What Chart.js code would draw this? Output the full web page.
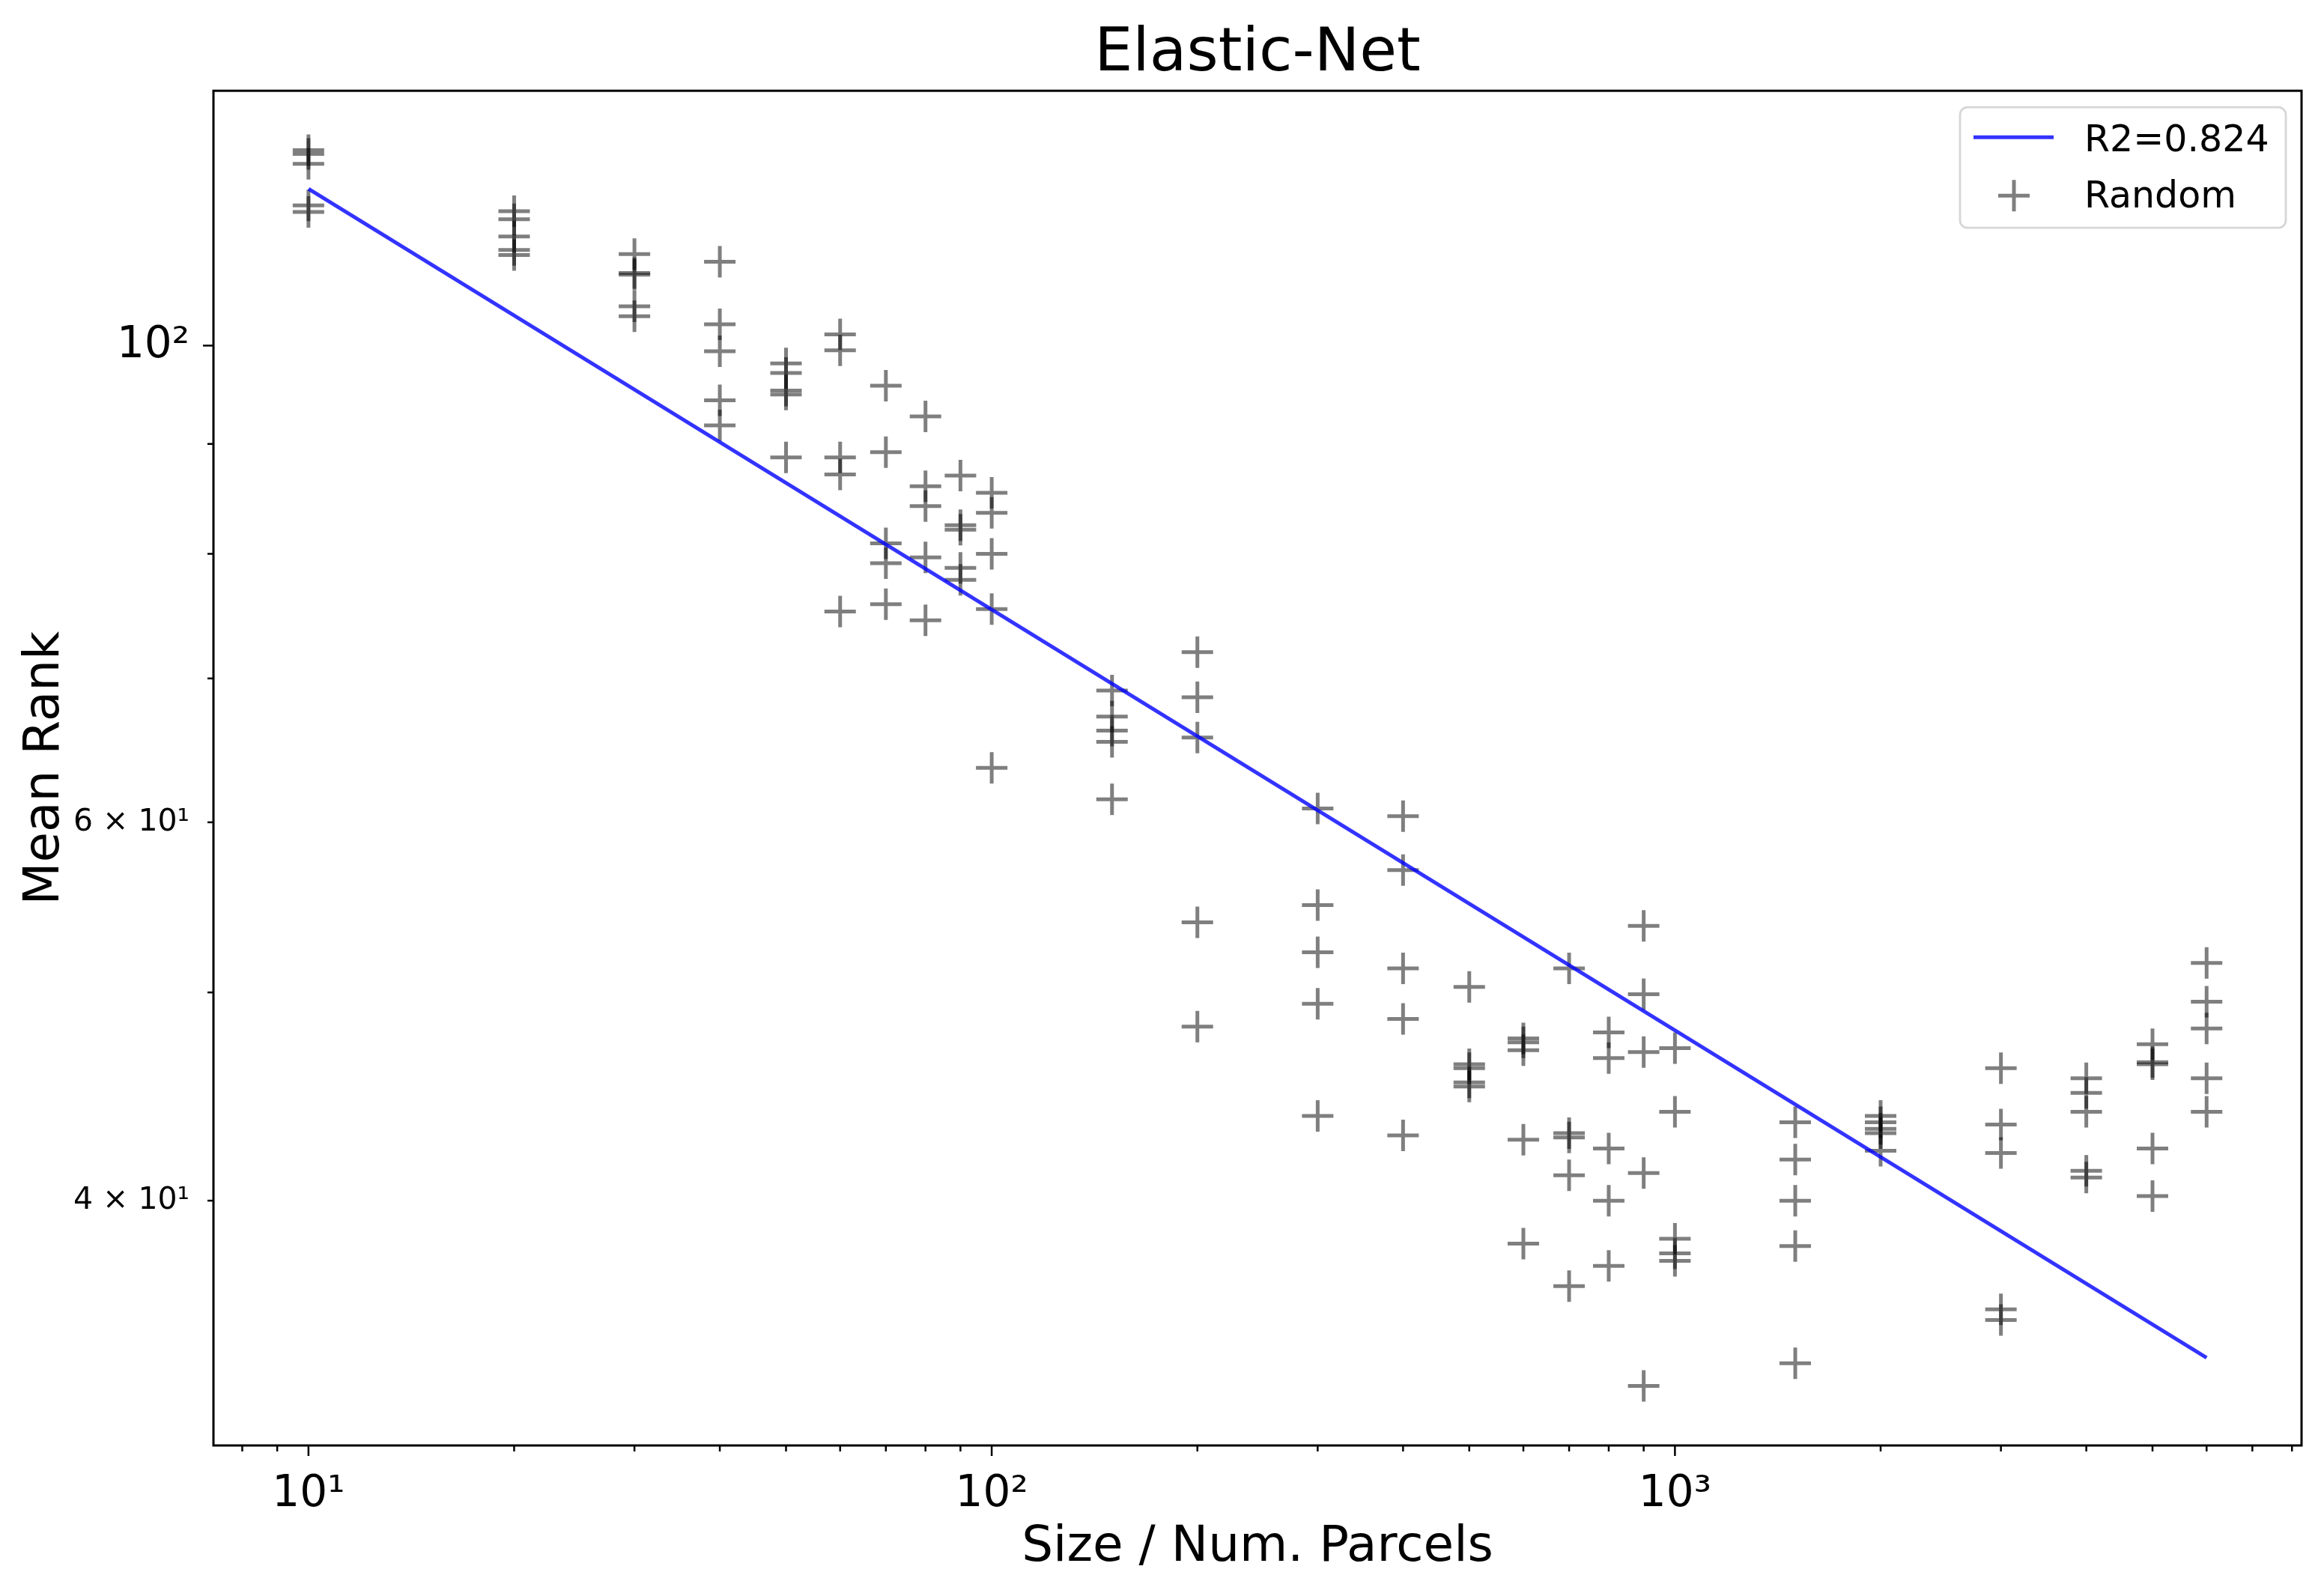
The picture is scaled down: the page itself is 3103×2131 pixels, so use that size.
<!DOCTYPE html>
<html>
<head>
<meta charset="utf-8">
<script src="https://cdn.jsdelivr.net/npm/chart.js@4.4.1/dist/chart.umd.min.js"></script>
<style>
  html, body { margin: 0; padding: 0; background: #fff; }
  #wrap { width: 3103px; height: 2131px; }
</style>
</head>
<body>
<div id="wrap"><canvas id="chart" width="3103" height="2131"></canvas></div>
<script>
const sizes = [10, 20, 30, 40, 50, 60, 70, 80, 90, 100, 150, 200, 300, 400, 500, 600, 700, 800, 900, 1000, 1500, 2000, 3000, 4000, 5000, 6000];

// five random runs per parcel size
const meanRank = [
  [123.3, 122.8, 121.5, 116.2, 115.4],
  [115.5, 114.5, 112.4, 110.8, 110.2],
  [110.3, 108.1, 107.9, 104.3, 103.2],
  [109.4, 102.3, 99.4, 94.3, 91.8],
  [98.1, 97.1, 95.3, 94.9, 88.7],
  [101.2, 99.5, 88.7, 87.1, 75.2],
  [95.8, 89.2, 80.9, 79.2, 75.8],
  [92.7, 86.0, 84.2, 79.7, 74.5],
  [87.0, 82.5, 82.1, 78.8, 77.8],
  [85.4, 83.6, 80.0, 75.4, 63.6],
  [69.1, 67.2, 66.2, 65.4, 61.5],
  [72.0, 68.6, 65.7, 53.9, 48.2],
  [60.9, 54.9, 52.2, 49.4, 43.8],
  [60.4, 57.0, 51.3, 48.6, 42.9],
  [50.3, 46.3, 46.1, 45.4, 45.2],
  [47.6, 47.4, 47.0, 42.7, 38.2],
  [51.3, 43.0, 42.8, 41.1, 36.5],
  [47.9, 46.6, 42.3, 40.0, 37.3],
  [53.7, 49.9, 46.9, 41.2, 32.8],
  [47.1, 44.0, 38.4, 37.8, 37.5],
  [43.5, 41.8, 40.0, 38.1, 33.6],
  [43.8, 43.5, 43.2, 43.0, 42.2],
  [46.1, 43.4, 42.1, 35.6, 35.2],
  [45.6, 44.9, 44.0, 41.3, 41.0],
  [47.3, 46.4, 46.3, 42.3, 40.2],
  [51.6, 49.5, 48.1, 45.6, 44.0]
];

// fitted power law, ends
const fitX = [10, 6000];
const fitY = [118.3, 33.8];

const xTicks = [8, 9, 10, 20, 30, 40, 50, 60, 70, 80, 90, 100, 200, 300, 400, 500, 600, 700, 800, 900,
                1000, 2000, 3000, 4000, 5000, 6000, 7000, 8000];
const xMajor = [10, 100, 1000];
const xTickLabels = { 10: "10¹", 100: "10²", 1000: "10³" };

const yTicks = [40, 50, 60, 70, 80, 90, 100];
const yMajor = [100];
const yTickLabels = { 40: "4 × 10¹", 60: "6 × 10¹", 100: "10²" };

const FONT = "DejaVu Sans";
const LINE_COLOR = "rgba(0,0,255,0.8)";
const MARK_COLOR = "rgba(0,0,0,0.5)";

const points = sizes.flatMap((s, i) => meanRank[i].map(v => ({ x: s, y: v })));

// matplotlib-style ticks (long major / short minor) and a full box frame
const axisFrame = {
  id: "axisFrame",
  afterDraw(chart) {
    const { ctx, chartArea: a, scales: { x, y } } = chart;
    ctx.save();
    ctx.strokeStyle = "#000";
    ctx.lineWidth = 2.5;
    xTicks.forEach(v => {
      const px = x.getPixelForValue(v);
      const len = xMajor.includes(v) ? 14 : 8;
      ctx.beginPath(); ctx.moveTo(px, a.bottom); ctx.lineTo(px, a.bottom + len); ctx.stroke();
    });
    yTicks.forEach(v => {
      const py = y.getPixelForValue(v);
      const len = yMajor.includes(v) ? 14 : 8;
      ctx.beginPath(); ctx.moveTo(a.left, py); ctx.lineTo(a.left - len, py); ctx.stroke();
    });
    ctx.lineWidth = 3;
    ctx.strokeRect(a.left, a.top, a.right - a.left, a.bottom - a.top);
    ctx.restore();
  }
};

// legend box in the upper right corner of the plot
const boxLegend = {
  id: "boxLegend",
  afterDraw(chart) {
    const { ctx, chartArea: a } = chart;
    const w = 435, h = 161;
    const x0 = a.right - 21 - w, y0 = a.top + 22;
    ctx.save();
    ctx.beginPath();
    ctx.roundRect(x0, y0, w, h, 10);
    ctx.fillStyle = "rgba(255,255,255,0.8)";
    ctx.fill();
    ctx.lineWidth = 2.8;
    ctx.strokeStyle = "rgba(204,204,204,0.8)";
    ctx.stroke();

    const [lineDs, markDs] = chart.data.datasets;
    ctx.strokeStyle = LINE_COLOR;
    ctx.lineWidth = 5;
    ctx.beginPath(); ctx.moveTo(x0 + 18, y0 + 40); ctx.lineTo(x0 + 125, y0 + 40); ctx.stroke();

    ctx.strokeStyle = MARK_COLOR;
    ctx.lineWidth = 5;
    const cx = x0 + 72, cy = y0 + 118, r = 21;
    ctx.beginPath();
    ctx.moveTo(cx - r, cy); ctx.lineTo(cx + r, cy);
    ctx.moveTo(cx, cy - r); ctx.lineTo(cx, cy + r);
    ctx.stroke();

    ctx.fillStyle = "#000";
    ctx.font = `49px "${FONT}"`;
    ctx.textBaseline = "alphabetic";
    ctx.textAlign = "left";
    ctx.fillText(lineDs.label, x0 + 166, y0 + 59);
    ctx.fillText(markDs.label, x0 + 166, y0 + 134);
    ctx.restore();
  }
};

Chart.defaults.font.family = FONT;
Chart.defaults.color = "#000";

new Chart(document.getElementById("chart"), {
  type: "scatter",
  data: {
    datasets: [
      {
        label: "R2=0.824",
        data: fitX.map((x, i) => ({ x, y: fitY[i] })),
        showLine: true,
        borderColor: LINE_COLOR,
        borderWidth: 5,
        pointRadius: 0,
        pointHoverRadius: 0,
        tension: 0
      },
      {
        label: "Random",
        data: points,
        pointStyle: "cross",
        pointRadius: 21,
        pointHoverRadius: 21,
        pointBorderWidth: 5,
        pointBorderColor: MARK_COLOR,
        pointBackgroundColor: MARK_COLOR
      }
    ]
  },
  options: {
    responsive: false,
    devicePixelRatio: 1,
    animation: false,
    events: [],
    layout: { padding: { top: 0, right: 30, bottom: 0, left: 0 } },
    plugins: {
      legend: { display: false },
      tooltip: { enabled: false },
      title: {
        display: true,
        fullSize: false,
        text: "Elastic-Net",
        color: "#000",
        font: { family: FONT, size: 81, weight: "normal" },
        padding: { top: 24, bottom: 0 }
      }
    },
    scales: {
      x: {
        type: "logarithmic",
        min: 7.26,
        max: 8262,
        afterBuildTicks: s => { s.ticks = xTicks.map(v => ({ value: v })); },
        afterFit: s => { s.height = 201; },
        grid: { display: false },
        border: { display: false },
        ticks: {
          autoSkip: false,
          maxRotation: 0,
          padding: 23,
          color: "#000",
          font: { family: FONT, size: 58 },
          callback: v => xTickLabels[v] || ""
        },
        title: {
          display: true,
          text: "Size / Num. Parcels",
          color: "#000",
          font: { family: FONT, size: 66 },
          padding: { top: 0, bottom: 25 }
        }
      },
      y: {
        type: "logarithmic",
        min: 30.77,
        max: 131.4,
        afterBuildTicks: s => { s.ticks = yTicks.map(v => ({ value: v })); },
        afterFit: s => { s.width = 285; },
        grid: { display: false },
        border: { display: false },
        ticks: {
          autoSkip: false,
          padding: 24,
          color: "#000",
          font: ctx => ({ family: FONT, size: yMajor.includes(ctx.tick && ctx.tick.value) ? 58 : 41 }),
          callback: v => yTickLabels[v] || ""
        },
        title: {
          display: true,
          text: "Mean Rank",
          color: "#000",
          font: { family: FONT, size: 66 },
          padding: { top: 21, bottom: 0 }
        }
      }
    }
  },
  plugins: [axisFrame, boxLegend]
});
</script>
</body>
</html>
